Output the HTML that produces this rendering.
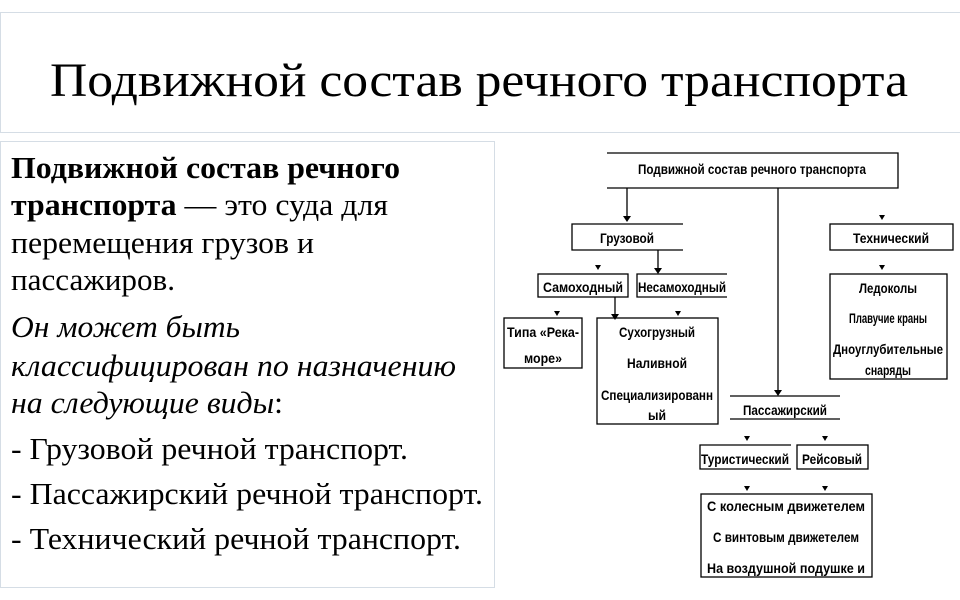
<!DOCTYPE html>
<html><head><meta charset="utf-8"><style>
html,body{margin:0;padding:0;background:#fff;width:960px;height:600px;overflow:hidden}
svg{display:block}
.s{font-family:"Liberation Serif",serif;fill:#000}
.d{font-family:"Liberation Sans",sans-serif;font-size:14px;font-weight:bold;fill:#000}
</style></head><body>
<svg width="960" height="600" viewBox="0 0 960 600">
<rect x="0.5" y="12.5" width="970" height="120" fill="#fff" stroke="#d5dde5"/>
<text class="s" x="50" y="96" font-size="48" textLength="858" lengthAdjust="spacingAndGlyphs">Подвижной состав речного транспорта</text>
<rect x="0.5" y="141.5" width="494" height="446" fill="#fff" stroke="#d5dde5"/>
<g class="s" font-size="31">
<text x="11" y="178" font-weight="bold" textLength="389" lengthAdjust="spacingAndGlyphs">Подвижной состав речного</text>
<text x="11" y="215" textLength="377" lengthAdjust="spacingAndGlyphs"><tspan font-weight="bold">транспорта</tspan> — это суда для</text>
<text x="11" y="253" textLength="303" lengthAdjust="spacingAndGlyphs">перемещения грузов и</text>
<text x="11" y="290" textLength="164" lengthAdjust="spacingAndGlyphs">пассажиров.</text>
<text x="11" y="337" font-style="italic" textLength="229" lengthAdjust="spacingAndGlyphs">Он может быть</text>
<text x="11" y="376" font-style="italic" textLength="445" lengthAdjust="spacingAndGlyphs">классифицирован по назначению</text>
<text x="11" y="413" textLength="272" lengthAdjust="spacingAndGlyphs"><tspan font-style="italic">на следующие виды</tspan>:</text>
<text x="11" y="459" textLength="397" lengthAdjust="spacingAndGlyphs">- Грузовой речной транспорт.</text>
<text x="11" y="504" textLength="472" lengthAdjust="spacingAndGlyphs">- Пассажирский речной транспорт.</text>
<text x="11" y="549" textLength="450" lengthAdjust="spacingAndGlyphs">- Технический речной транспорт.</text>
</g>
<g fill="none" stroke="#000" stroke-width="1.3">
<path d="M607 153H898V188H607"/>
<path d="M683 224H572V250H683"/>
<rect x="830" y="224" width="123" height="26"/>
<rect x="538" y="274" width="90" height="23"/>
<path d="M727 274H637V297H727"/>
<rect x="504" y="318" width="78" height="50"/>
<rect x="597" y="318" width="121" height="106"/>
<rect x="830" y="274" width="117" height="105"/>
<path d="M730 396H840M730 419H840"/>
<path d="M791 445H700V469H791"/>
<rect x="797" y="445" width="71" height="24"/>
<rect x="701" y="494" width="171" height="83"/>
<path d="M627 188V218M778 188V392M658 250V270M615 297V316"/>
</g>
<g fill="#000">
<path d="M623 216h8l-4 6z"/><path d="M774 390h8l-4 6z"/>
<path d="M654 268h8l-4 6z"/><path d="M611 314h8l-4 6z"/>
<path d="M879 215h6l-3 5z"/><path d="M879 265h6l-3 5z"/>
<path d="M595 265h6l-3 5z"/><path d="M554 311h6l-3 5z"/><path d="M675 311h6l-3 5z"/>
<path d="M744 436h6l-3 5z"/><path d="M822 436h6l-3 5z"/>
<path d="M744 486h6l-3 5z"/><path d="M822 486h6l-3 5z"/>
</g>
<g class="d" text-anchor="middle">
<text x="752" y="174" textLength="228" lengthAdjust="spacingAndGlyphs">Подвижной состав речного транспорта</text>
<text x="627" y="243" textLength="54" lengthAdjust="spacingAndGlyphs">Грузовой</text>
<text x="891" y="243" textLength="76" lengthAdjust="spacingAndGlyphs">Технический</text>
<text x="583" y="292" textLength="80" lengthAdjust="spacingAndGlyphs">Самоходный</text>
<text x="682" y="292" textLength="88" lengthAdjust="spacingAndGlyphs">Несамоходный</text>
<text x="543" y="337" textLength="72" lengthAdjust="spacingAndGlyphs">Типа «Река-</text>
<text x="543" y="363" textLength="38" lengthAdjust="spacingAndGlyphs">море»</text>
<text x="657" y="337" textLength="76" lengthAdjust="spacingAndGlyphs">Сухогрузный</text>
<text x="657" y="368" textLength="60" lengthAdjust="spacingAndGlyphs">Наливной</text>
<text x="657" y="400" textLength="112" lengthAdjust="spacingAndGlyphs">Специализированн</text>
<text x="657" y="420" textLength="18" lengthAdjust="spacingAndGlyphs">ый</text>
<text x="888" y="293" textLength="58" lengthAdjust="spacingAndGlyphs">Ледоколы</text>
<text x="888" y="323" textLength="78" lengthAdjust="spacingAndGlyphs">Плавучие краны</text>
<text x="888" y="354" textLength="110" lengthAdjust="spacingAndGlyphs">Дноуглубительные</text>
<text x="888" y="375" textLength="46" lengthAdjust="spacingAndGlyphs">снаряды</text>
<text x="785" y="415" textLength="84" lengthAdjust="spacingAndGlyphs">Пассажирский</text>
<text x="745" y="464" textLength="88" lengthAdjust="spacingAndGlyphs">Туристический</text>
<text x="832" y="464" textLength="60" lengthAdjust="spacingAndGlyphs">Рейсовый</text>
<text x="786" y="511" textLength="158" lengthAdjust="spacingAndGlyphs">С колесным движетелем</text>
<text x="786" y="542" textLength="146" lengthAdjust="spacingAndGlyphs">С винтовым движетелем</text>
<text x="786" y="573" textLength="158" lengthAdjust="spacingAndGlyphs">На воздушной подушке и</text>
</g>
</svg>
</body></html>
